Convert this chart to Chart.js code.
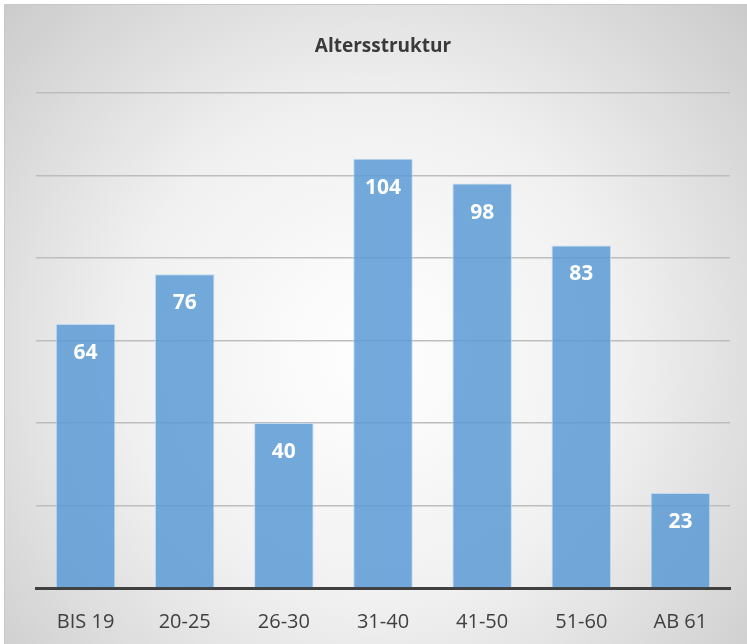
<!DOCTYPE html>
<html>
<head>
<meta charset="utf-8">
<script src="https://cdn.jsdelivr.net/npm/chart.js@4"></script>
<style>
  html, body { margin: 0; padding: 0; background: #fff; }
  #wrap { width: 747px; height: 644px; }
</style>
</head>
<body>
<div id="wrap"><canvas id="ageChart" width="747" height="644"></canvas></div>
<script>
const categories = ["BIS 19", "20-25", "26-30", "31-40", "41-50", "51-60", "AB 61"];
const counts = [64, 76, 40, 104, 98, 83, 23];
const chartTitle = "Altersstruktur";

// Radial grey background + frame
const bgPlugin = {
  id: "bg",
  beforeDraw(c) {
    const ctx = c.ctx;
    const w = c.width, h = c.height;
    ctx.save();
    const g = ctx.createRadialGradient(w / 2, h * 0.55, 0, w / 2, h * 0.55, w * 0.75);
    g.addColorStop(0, "#ffffff");
    g.addColorStop(0.45, "#f0f0f0");
    g.addColorStop(1, "#c4c4c4");
    ctx.fillStyle = g;
    ctx.fillRect(5, 5, w - 5, h - 5);
    ctx.strokeStyle = "#c8c8c8";
    ctx.lineWidth = 1;
    ctx.beginPath();
    ctx.moveTo(4.5, h);
    ctx.lineTo(4.5, 4.5);
    ctx.lineTo(w, 4.5);
    ctx.stroke();
    ctx.restore();
  }
};

// White value labels inside bar tops
const valuePlugin = {
  id: "values",
  afterDatasetsDraw(c) {
    const ctx = c.ctx;
    const meta = c.getDatasetMeta(0);
    ctx.save();
    ctx.fillStyle = "#ffffff";
    ctx.font = "bold 21px 'Open Sans', sans-serif";
    ctx.textAlign = "center";
    ctx.textBaseline = "middle";
    meta.data.forEach((bar, i) => {
      ctx.fillText(counts[i], bar.x, bar.y + 29);
    });
    ctx.restore();
  }
};

new Chart(document.getElementById("ageChart"), {
  type: "bar",
  data: {
    labels: categories,
    datasets: [{
      data: counts,
      backgroundColor: "rgba(91,155,213,0.85)",
      borderColor: "rgba(190,215,240,0.9)",
      borderWidth: 1,
      categoryPercentage: 1,
      barPercentage: 0.6
    }]
  },
  options: {
    responsive: false,
    animation: false,
    layout: { padding: { left: 36, right: 17, top: 0, bottom: -12 } },
    plugins: {
      legend: { display: false },
      tooltip: { enabled: false },
      title: {
        display: true,
        text: chartTitle,
        color: "#3a3a3a",
        font: { family: "'Open Sans', sans-serif", size: 19, weight: "bold" },
        padding: { top: 35, bottom: 35 }
      }
    },
    scales: {
      x: {
        grid: { display: false, drawTicks: false },
        border: { display: true, color: "#404040", width: 3 },
        ticks: {
          color: "#404040",
          padding: 22,
          font: { family: "'Open Sans', sans-serif", size: 20 }
        }
      },
      y: {
        min: 0,
        max: 120,
        ticks: { display: false, stepSize: 20 },
        border: { display: false },
        grid: { color: "#bdbdbd", lineWidth: 1.5, drawTicks: false }
      }
    }
  },
  plugins: [bgPlugin, valuePlugin]
});
</script>
</body>
</html>
